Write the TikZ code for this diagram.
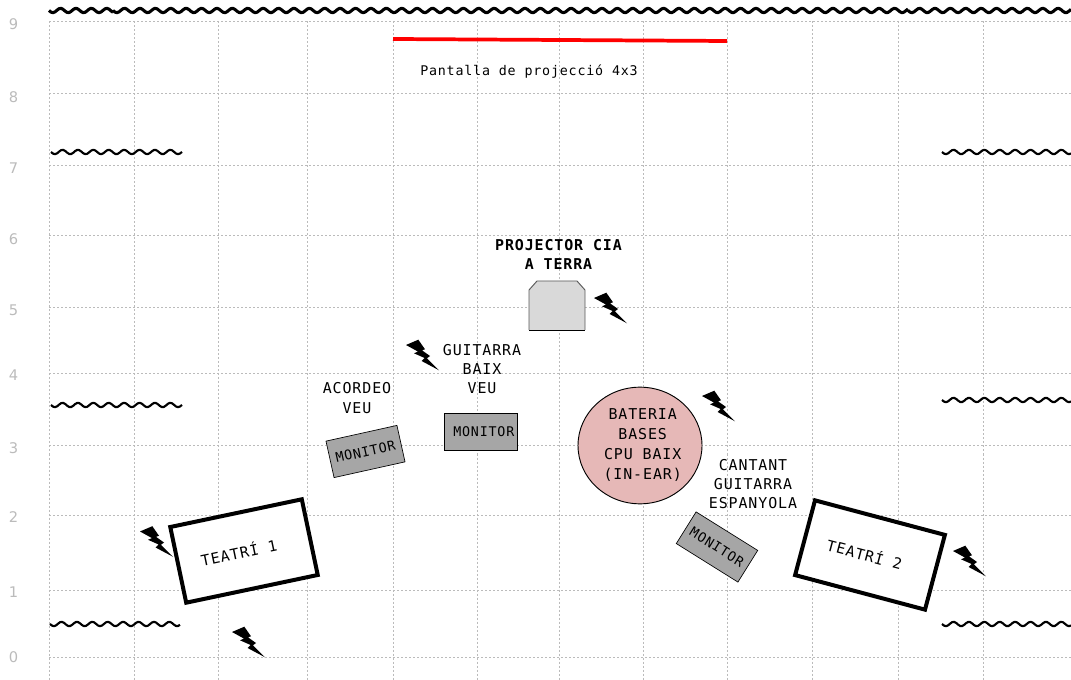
\documentclass[tikz,border=0pt]{standalone}
\usepackage{fontspec}
\setmainfont[LetterSpace=6]{DejaVu Sans Mono}
\newfontfamily\gridfont{DejaVu Sans}
\usetikzlibrary{shapes.geometric}
\definecolor{gridc}{HTML}{BBBBBB}
\definecolor{numc}{HTML}{BBBBBB}
\definecolor{monc}{HTML}{A6A6A6}
\definecolor{drumc}{HTML}{E6B8B7}
\definecolor{projc}{HTML}{D9D9D9}
\newcommand{\wallwave}[4]{% style, x0, x1, y
  \pgfmathtruncatemacro\wavesamples{(#3-#2)/2+1}
  \draw[#1] plot[domain=#2:#3,samples=\wavesamples] (\x,{#4+2.2*sin(23.377*mod(\x-#2,15.4))});}
\tikzset{
 x=0.75pt,y=-0.75pt,
 gridline/.style={draw=gridc,line width=0.75pt,dash pattern=on 1.5pt off 1.5pt},
 gridnum/.style={font=\gridfont\fontsize{11pt}{13pt}\selectfont,text=numc,inner sep=0pt},
 wave/.style={draw=black,line width=1.6pt,line join=round},
 topwave/.style={wave,line width=2.3pt},
 txtlabel/.style={font=\fontsize{11.2pt}{14.4pt}\selectfont,align=center,inner sep=0pt},
 screenlabel/.style={font=\fontsize{10pt}{12pt}\selectfont,inner sep=0pt},
 boldlabel/.style={txtlabel,font=\bfseries\fontsize{11.2pt}{14.4pt}\selectfont},
 teatre/.style={draw=black,line width=3pt,fill=white,minimum width=100.8pt,minimum height=58pt,inner sep=0pt,font=\fontsize{11.2pt}{13pt}\selectfont},
 monitor/.style={draw=black,line width=0.5pt,fill=monc,minimum width=54.5pt,minimum height=28pt,inner sep=0pt,font=\fontsize{10pt}{12pt}\selectfont},
 bolt/.pic={\fill[black] (0,0)--(12.3,-5.3)--(19,4.3)--(16,5.3)--(24,11)--(21,13.3)--(33,25.3)--(15.6,16)--(18.6,13)--(8,8.3)--(12,6.6)--cycle;}
}
\begin{document}
\begin{tikzpicture}
\useasboundingbox (0,0) rectangle (1071,680);
% grid
\foreach \gx in {49,134,218,307,393,477,559,643,727,812,898,983}
  \draw[gridline] (\gx,21.5) -- (\gx,680);
\foreach \gy in {21.5,94,165.5,236,308,374,446,515.5,590,657.5}
  \draw[gridline] (49,\gy) -- (1071,\gy);
\foreach \gy/\gt in {24/9,97/8,168/7,239/6,310/5,375/4,448/3,517/2,592/1,657/0}
  \node[gridnum] (num\gt) at (13.5,\gy) {\gt};
% walls
\wallwave{topwave}{49}{113}{10.5}
\wallwave{topwave}{113}{908}{10.5}
\wallwave{topwave}{908}{1071}{10.5}
\wallwave{wave}{51}{182}{152}
\wallwave{wave}{942}{1071}{152}
\wallwave{wave}{51}{182}{405}
\wallwave{wave}{942}{1071}{400}
\wallwave{wave}{50}{180}{624}
\wallwave{wave}{942}{1071}{624}
% screen
\coordinate (sA) at (393,39); \coordinate (sB) at (727,41);
\draw[red,line width=2.8pt] (sA) -- (sB);
\node[screenlabel] (screen) at (529,72) {Pantalla de projecció 4x3};
% projector
\fill[projc] (529,330)--(529,290)--(537,281)--(577,281)--(585,290)--(585,330)--cycle;
\draw[black!65,line width=0.7pt] (529,330)--(529,290)--(537,281)--(577,281)--(585,290)--(585,330);
\draw[black,line width=0.7pt] (529,330)--(585,330);
\node[boldlabel] (proj) at (558.5,254.5) {PROJECTOR CIA\\A TERRA};
% drums
\node[txtlabel,font=\fontsize{11.2pt}{15pt}\selectfont,draw=black,line width=0.7pt,fill=drumc,ellipse,minimum width=93pt,minimum height=87.5pt,inner sep=0pt] (drums) at (640,445.5) {\hspace*{4pt}BATERIA\\\hspace*{4pt}BASES\\\hspace*{4pt}CPU BAIX\\\hspace*{4pt}(IN-EAR)};
% monitors
\node[monitor,rotate=12.5] (mon1) at (365.5,451.5) {MONITOR};
\node[monitor] (mon2) at (480.5,432) {\hspace*{5pt}MONITOR};
\node[monitor,rotate=-32] (mon3) at (717,547) {MONITOR};
% teatres
\node[teatre,rotate=11.9] (t1) at (244,551) {\raisebox{-2pt}{TEATRÍ 1}\hspace*{8pt}};
\node[teatre,rotate=-14.9] (t2) at (870,555) {\raisebox{-2pt}{TEATRÍ 2}\hspace*{8pt}};
% labels
\node[txtlabel] (l1) at (357,398) {ACORDEO\\VEU};
\node[txtlabel] (l2) at (482,369) {GUITARRA\\BAIX\\VEU};
\node[txtlabel] (l3) at (753,484) {CANTANT\\GUITARRA\\ESPANYOLA};
% bolts
\pic at (140,531.5) {bolt};
\pic at (232,632) {bolt};
\pic at (406,345) {bolt};
\pic at (594,298) {bolt};
\pic at (702,396) {bolt};
\pic at (953,551) {bolt};
\end{tikzpicture}
\end{document}
